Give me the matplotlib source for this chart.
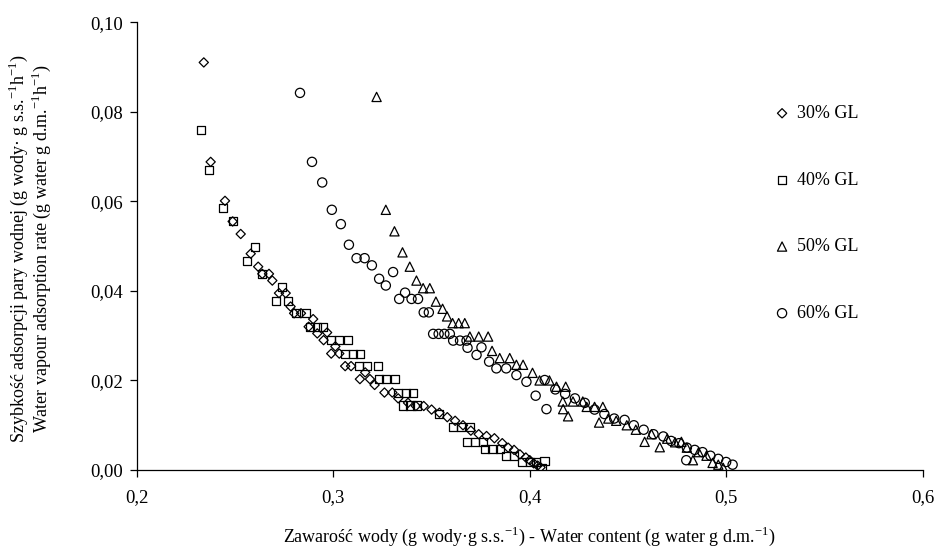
import matplotlib
matplotlib.use("Agg")
import matplotlib.pyplot as plt
from matplotlib.ticker import FuncFormatter

plt.rcParams["font.family"] = ["Liberation Serif", "DejaVu Serif"]
plt.rcParams["mathtext.fontset"] = "custom"
plt.rcParams["mathtext.rm"] = "Liberation Serif"

# 30% GL (diamonds)
x30 = [0.234, 0.2375, 0.2448, 0.2487, 0.2528, 0.2579, 0.2617, 0.2638, 0.2672, 0.2689,
       0.2723, 0.2757, 0.2782, 0.2800, 0.2835, 0.2897, 0.2874, 0.2918, 0.2968, 0.2950,
       0.3010, 0.2989, 0.3030, 0.3060, 0.3090, 0.3162, 0.3135, 0.3186, 0.3210, 0.3260,
       0.3300, 0.3330, 0.3380, 0.3420, 0.3460, 0.3500, 0.3540, 0.3580, 0.3620, 0.3660,
       0.3700, 0.3740, 0.3780, 0.3820, 0.3860, 0.3890, 0.3920, 0.3950, 0.3980, 0.4000,
       0.4020, 0.4040, 0.4055]
y30 = [0.0910, 0.0688, 0.0601, 0.0555, 0.0527, 0.0483, 0.0454, 0.0438, 0.0438, 0.0423,
       0.0395, 0.0395, 0.0365, 0.0350, 0.0350, 0.0337, 0.0320, 0.0305, 0.0307, 0.0290,
       0.0276, 0.0260, 0.0260, 0.0232, 0.0232, 0.0218, 0.0203, 0.0203, 0.0190, 0.0173,
       0.0173, 0.0160, 0.0150, 0.0143, 0.0143, 0.0135, 0.0128, 0.0118, 0.0110, 0.0100,
       0.0088, 0.0080, 0.0076, 0.0071, 0.0060, 0.0050, 0.0045, 0.0035, 0.0028, 0.0022,
       0.0015, 0.0010, 0.0006]

# 40% GL (squares)
x40 = [0.2327, 0.2365, 0.2436, 0.2487, 0.2561, 0.2600, 0.2638, 0.2707, 0.2738, 0.2768,
       0.2810, 0.2860, 0.2880, 0.2915, 0.2947, 0.2990, 0.3030, 0.3074, 0.3060, 0.3100,
       0.3135, 0.3130, 0.3170, 0.3226, 0.3230, 0.3270, 0.3313, 0.3330, 0.3370, 0.3405,
       0.3354, 0.3390, 0.3425, 0.3540, 0.3610, 0.3650, 0.3695, 0.3680, 0.3720, 0.3760,
       0.3770, 0.3810, 0.3847, 0.3880, 0.3920, 0.3960, 0.4000, 0.4030, 0.4075, 0.4060]
y40 = [0.0760, 0.0670, 0.0585, 0.0555, 0.0466, 0.0497, 0.0438, 0.0378, 0.0408, 0.0378,
       0.0350, 0.0350, 0.0320, 0.0320, 0.0320, 0.0290, 0.0290, 0.0290, 0.0260, 0.0260,
       0.0260, 0.0232, 0.0232, 0.0232, 0.0203, 0.0203, 0.0203, 0.0173, 0.0173, 0.0173,
       0.0144, 0.0144, 0.0144, 0.0126, 0.0097, 0.0097, 0.0097, 0.0062, 0.0062, 0.0062,
       0.0047, 0.0047, 0.0047, 0.0032, 0.0032, 0.0018, 0.0018, 0.0018, 0.0020, 0.0004]

# 50% GL (triangles)
x50 = [0.3220, 0.3267, 0.3311, 0.3352, 0.3389, 0.3423, 0.3457, 0.3491, 0.3522, 0.3556,
       0.3579, 0.3607, 0.3638, 0.3669, 0.3695, 0.3740, 0.3788, 0.3808, 0.3847, 0.3898,
       0.3932, 0.3966, 0.4014, 0.4050, 0.4100, 0.4136, 0.4183, 0.4168, 0.4220, 0.4270,
       0.4170, 0.4195, 0.4290, 0.4330, 0.4372, 0.4353, 0.4400, 0.4440, 0.4494, 0.4540,
       0.4585, 0.4620, 0.4662, 0.4700, 0.4740, 0.4772, 0.4800, 0.4831, 0.4860, 0.4900,
       0.4931, 0.4960, 0.4985]
y50 = [0.0833, 0.0581, 0.0533, 0.0486, 0.0454, 0.0423, 0.0406, 0.0406, 0.0376, 0.0360,
       0.0343, 0.0328, 0.0328, 0.0328, 0.0298, 0.0298, 0.0298, 0.0266, 0.0250, 0.0250,
       0.0235, 0.0235, 0.0217, 0.0200, 0.0200, 0.0186, 0.0186, 0.0153, 0.0153, 0.0153,
       0.0136, 0.0120, 0.0141, 0.0141, 0.0141, 0.0106, 0.0115, 0.0110, 0.0100, 0.0090,
       0.0063, 0.0080, 0.0051, 0.0070, 0.0062, 0.0063, 0.0050, 0.0022, 0.0040, 0.0032,
       0.0016, 0.0012, 0.0005]

# 60% GL (circles)
x60 = [0.2830, 0.2891, 0.2943, 0.2992, 0.3038, 0.3079, 0.3118, 0.3159, 0.3196, 0.3233,
       0.3267, 0.3304, 0.3365, 0.3335, 0.3398, 0.3431, 0.3460, 0.3486, 0.3508, 0.3536,
       0.3565, 0.3593, 0.3610, 0.3645, 0.3678, 0.3683, 0.3729, 0.3754, 0.3793, 0.3830,
       0.3880, 0.3932, 0.3983, 0.4030, 0.4076, 0.4085, 0.4130, 0.4180, 0.4230, 0.4280,
       0.4330, 0.4380, 0.4430, 0.4483, 0.4530, 0.4580, 0.4630, 0.4680, 0.4720, 0.4760,
       0.4797, 0.4800, 0.4840, 0.4880, 0.4920, 0.4960, 0.5000, 0.5033]
y60 = [0.0842, 0.0688, 0.0642, 0.0581, 0.0549, 0.0503, 0.0473, 0.0473, 0.0457, 0.0427,
       0.0412, 0.0442, 0.0396, 0.0382, 0.0382, 0.0382, 0.0352, 0.0352, 0.0304, 0.0304,
       0.0304, 0.0304, 0.0289, 0.0289, 0.0289, 0.0273, 0.0257, 0.0274, 0.0242, 0.0227,
       0.0227, 0.0212, 0.0197, 0.0166, 0.0201, 0.0136, 0.0180, 0.0170, 0.0160, 0.0150,
       0.0135, 0.0125, 0.0115, 0.0112, 0.0100, 0.0090, 0.0080, 0.0075, 0.0065, 0.0060,
       0.0022, 0.0050, 0.0045, 0.0040, 0.0032, 0.0025, 0.0018, 0.0012]

fig = plt.figure(figsize=(9.34, 5.53), dpi=100)
ax = fig.add_axes([0.1467, 0.15, 0.841, 0.81])

kw = dict(facecolors="none", edgecolors="black", linewidths=0.9)
ax.scatter(x30, y30, marker="D", s=22, label="30% GL", **kw)
ax.scatter(x40, y40, marker="s", s=34, label="40% GL", **kw)
ax.scatter(x50, y50, marker="^", s=44, label="50% GL", **kw)
ax.scatter(x60, y60, marker="o", s=44, label="60% GL", **kw)

ax.set_xlim(0.2, 0.6)
ax.set_ylim(0, 0.10)
ax.set_xticks([0.2, 0.3, 0.4, 0.5, 0.6])
ax.set_yticks([0.0, 0.02, 0.04, 0.06, 0.08, 0.10])
ax.xaxis.set_major_formatter(FuncFormatter(lambda v, p: f"{v:.1f}".replace(".", ",")))
ax.yaxis.set_major_formatter(FuncFormatter(lambda v, p: f"{v:.2f}".replace(".", ",")))
ax.tick_params(direction="out", length=5, width=0.9, labelsize=13.5, colors="black", pad=5)
ax.tick_params(axis="x", pad=9)
ax.spines["top"].set_visible(False)
ax.spines["right"].set_visible(False)
for s in ("left", "bottom"):
    ax.spines[s].set_linewidth(0.9)

ax.set_xlabel("Zawarość wody (g wody·g s.s.$^{-1}$) - Water content (g water g d.m.$^{-1}$)",
              fontsize=13, labelpad=13)
fig.text(0.02, 0.55, "Szybkość adsorpcji pary wodnej (g wody· g s.s.$^{-1}$h$^{-1}$)",
         rotation=90, ha="center", va="center", fontsize=13)
fig.text(0.044, 0.55, "Water vapour adsorption rate (g water g d.m.$^{-1}$h$^{-1}$)",
         rotation=90, ha="center", va="center", fontsize=13)

ax.legend(loc="upper left", bbox_to_anchor=(0.812, 0.815), frameon=False, fontsize=13,
          handlelength=0.8, handletextpad=0.4, labelspacing=2.75, borderpad=0,
          borderaxespad=0, scatterpoints=1)

fig.savefig("out.png", dpi=100)
